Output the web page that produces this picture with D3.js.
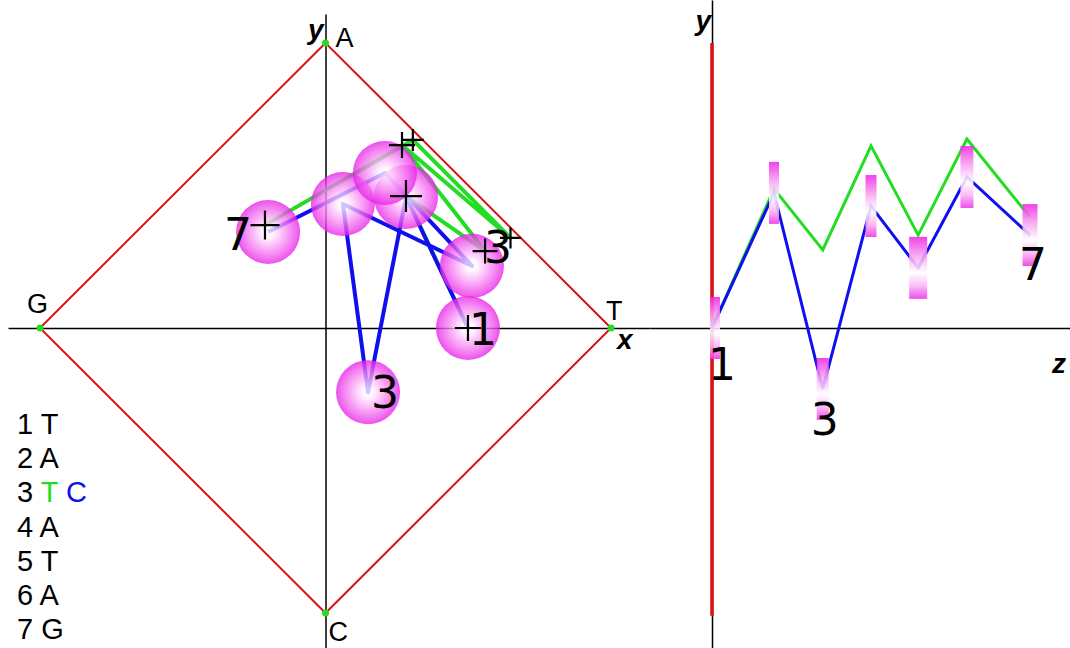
<!DOCTYPE html>
<html>
<head>
<meta charset="utf-8">
<script src="https://cdn.jsdelivr.net/npm/d3@7"></script>
<style>
  html, body { margin: 0; padding: 0; background: #fff; }
  svg { display: block; }
</style>
</head>
<body>
<svg id="chart" width="1070" height="648"></svg>
<script>
// ---- sequence: positions and the two variants (differ at position 3) ----
const positions = [1, 2, 3, 4, 5, 6, 7];
const seqGreen  = ["T", "A", "T", "A", "T", "A", "G"];
const seqBlue   = ["T", "A", "C", "A", "T", "A", "G"];

// ---- square of the four bases, in plane units ----
const vertexNames = ["A", "T", "C", "G"];
const vertexX = [0, 1, 0, -1];
const vertexY = [1, 0, -1, 0];

// ---- front view (x, y) of each walk ----
const greenFaceX = [0.499, 0.282, 0.559, 0.268, 0.648, 0.306, -0.212];
const greenFaceY = [0.000, 0.463, 0.270, 0.642, 0.316, 0.660, 0.361];
const blueFaceX  = [0.499, 0.282, 0.149, 0.061, 0.513, 0.208, -0.201];
const blueFaceY  = [0.000, 0.460, -0.225, 0.435, 0.218, 0.544, 0.337];

// ---- side view (z, y) of each walk ----
const sideZ      = [0, 1.17, 2.09, 3.00, 3.89, 4.81, 6.00];
const greenSideY = [0, 0.488, 0.274, 0.639, 0.326, 0.663, 0.389];
const blueSideY  = [0, 0.474, -0.214, 0.428, 0.211, 0.530, 0.326];

// ---- styling ----
const GREEN = "#22dd22", BLUE = "#1010ee", RED = "#dd1111";
const sphereR = 32;
const crossSize = [26, 32, 25, 26, 21, 22, 29];
const barWidth = [10, 10, 12, 11, 18, 13, 15];
const barHalf = 31;

const svg = d3.select("#chart");
const defs = svg.append("defs");

const rg = defs.append("radialGradient").attr("id", "ball")
  .attr("cx", "50%").attr("cy", "50%").attr("r", "50%");
[[0, "#ffffff"], [0.18, "#fff0ff"], [0.55, "#f894f4"], [0.85, "#ee48ec"], [1, "#e620e6"]]
  .forEach(([o, c]) => rg.append("stop").attr("offset", o).attr("stop-color", c));

const lg = defs.append("linearGradient").attr("id", "bar")
  .attr("x1", 0).attr("y1", 0).attr("x2", 0).attr("y2", 1);
[[0, "#ee28e6"], [0.3, "#f8a0f2"], [0.58, "#ffffff"], [0.8, "#fab0f4"], [1, "#ee34e8"]]
  .forEach(([o, c]) => lg.append("stop").attr("offset", o).attr("stop-color", c));

// ---- scales ----
const x = d3.scaleLinear().domain([-1, 1]).range([40, 611]);
const y = d3.scaleLinear().domain([-1, 1]).range([613, 43]);
const z = d3.scaleLinear().domain([0, 6]).range([712, 1030]);

const greenFace = positions.map((p, i) => ({ p, x: greenFaceX[i], y: greenFaceY[i] }));
const blueFace  = positions.map((p, i) => ({ p, x: blueFaceX[i],  y: blueFaceY[i] }));
const greenSide = positions.map((p, i) => ({ p, z: sideZ[i], y: greenSideY[i] }));
const blueSide  = positions.map((p, i) => ({ p, z: sideZ[i], y: blueSideY[i] }));

// ---- axes (plain domain lines) ----
function axisLine(g, axis, tx, ty) {
  g.attr("transform", `translate(${tx},${ty})`).call(axis);
  g.select(".domain").attr("stroke", "#000").attr("stroke-width", 1.5);
}
const xAxisScale = x.copy().domain([x.invert(8), x.invert(650)]).range([8, 650]);
axisLine(svg.append("g"), d3.axisBottom(xAxisScale).tickValues([]).tickSizeOuter(0), 0, y(0));
const yAxisScale = y.copy().domain([y.invert(648), y.invert(14)]).range([648, 14]);
axisLine(svg.append("g"), d3.axisLeft(yAxisScale).tickValues([]).tickSizeOuter(0), x(0), 0);

const zAxisScale = z.copy().domain([z.invert(650), z.invert(1070)]).range([650, 1070]);
axisLine(svg.append("g"), d3.axisBottom(zAxisScale).tickValues([]).tickSizeOuter(0), 0, y(0));
const ySideScale = y.copy().domain([y.invert(648), y.invert(0)]).range([648, 0]);
axisLine(svg.append("g"), d3.axisLeft(ySideScale).tickValues([]).tickSizeOuter(0), z(0), 0);

// ---- front view: base square ----
const square = vertexNames.map((n, i) => ({ n, x: vertexX[i], y: vertexY[i] }));
svg.append("path")
  .attr("d", d3.line().x(d => x(d.x)).y(d => y(d.y))(square) + "Z")
  .attr("fill", "none").attr("stroke", RED).attr("stroke-width", 2);
svg.selectAll("circle.vtx").data(square).join("circle").attr("class", "vtx")
  .attr("cx", d => x(d.x)).attr("cy", d => y(d.y)).attr("r", 3.5).attr("fill", GREEN);

const faceLine = d3.line().x(d => x(d.x)).y(d => y(d.y));
svg.append("path").attr("d", faceLine(greenFace)).attr("fill", "none")
  .attr("stroke", GREEN).attr("stroke-width", 4).attr("stroke-linejoin", "round");
svg.append("path").attr("d", faceLine(blueFace)).attr("fill", "none")
  .attr("stroke", BLUE).attr("stroke-width", 4).attr("stroke-linejoin", "round");

svg.selectAll("circle.ball").data(blueFace).join("circle").attr("class", "ball")
  .attr("cx", d => x(d.x)).attr("cy", d => y(d.y)).attr("r", sphereR)
  .attr("fill", "url(#ball)").attr("opacity", 0.78);

svg.selectAll("path.cross").data(greenFace).join("path").attr("class", "cross")
  .attr("d", (d, i) => {
    const cx = x(d.x), cy = y(d.y), h = crossSize[i] / 2;
    return `M${cx - h},${cy}H${cx + h}M${cx},${cy - h}V${cy + h}`;
  })
  .attr("stroke", "#000").attr("stroke-width", 2.2).attr("fill", "none");

// ---- side view ----
svg.append("line")
  .attr("x1", z(0)).attr("x2", z(0)).attr("y1", y(1)).attr("y2", y(-1.01))
  .attr("stroke", RED).attr("stroke-width", 3.5);

const sideLine = d3.line().x(d => z(d.z)).y(d => y(d.y));
svg.append("path").attr("d", sideLine(greenSide)).attr("fill", "none")
  .attr("stroke", GREEN).attr("stroke-width", 3).attr("stroke-linejoin", "miter");
svg.append("path").attr("d", sideLine(blueSide)).attr("fill", "none")
  .attr("stroke", BLUE).attr("stroke-width", 3).attr("stroke-linejoin", "miter");

svg.selectAll("rect.bar").data(blueSide).join("rect").attr("class", "bar")
  .attr("x", (d, i) => z(d.z) - barWidth[i] / 2 + (i === 0 ? 3 : 0))
  .attr("y", d => y(d.y) - barHalf)
  .attr("width", (d, i) => barWidth[i]).attr("height", barHalf * 2)
  .attr("fill", "url(#bar)").attr("opacity", 0.88);

// ---- point labels ----
const numFont = "DejaVu Sans, sans-serif";
const faceLabels = [
  { d: blueFace[6], t: "7", dx: -16, dy: 18, anchor: "end" },
  { d: blueFace[2], t: "3", dx: 3, dy: 16, anchor: "start" },
  { d: blueFace[0], t: "1", dx: 1, dy: 17, anchor: "start" },
  { d: greenFace[2], t: "3", dx: -1, dy: 12, anchor: "start" }
];
svg.selectAll("text.flab").data(faceLabels).join("text").attr("class", "flab")
  .attr("x", l => x(l.d.x) + l.dx).attr("y", l => y(l.d.y) + l.dy)
  .attr("text-anchor", l => l.anchor)
  .attr("font-family", numFont).attr("font-size", 44).attr("fill", "#000").text(l => l.t);

const sideLabels = [
  { d: blueSide[0], t: "1", dx: -4, dy: 52 },
  { d: blueSide[2], t: "3", dx: -12, dy: 46 },
  { d: blueSide[6], t: "7", dx: -11, dy: 45 }
];
svg.selectAll("text.slab").data(sideLabels).join("text").attr("class", "slab")
  .attr("x", l => z(l.d.z) + l.dx).attr("y", l => y(l.d.y) + l.dy)
  .attr("font-family", numFont).attr("font-size", 44).attr("fill", "#000").text(l => l.t);

// ---- vertex names and axis titles ----
const txtFont = "Liberation Sans, Arial, sans-serif";
const vertexLabelPos = { A: [10, 4], T: [-5, -8], C: [3, 28], G: [-13, -15] };
svg.selectAll("text.vname").data(square).join("text").attr("class", "vname")
  .attr("x", d => x(d.x) + vertexLabelPos[d.n][0])
  .attr("y", d => y(d.y) + vertexLabelPos[d.n][1])
  .attr("font-family", txtFont).attr("font-size", 27).text(d => d.n);

const titles = [
  { t: "y", px: x(0) - 2, py: 39, anchor: "end" },
  { t: "x", px: x(1) + 6, py: y(0) + 21, anchor: "start" },
  { t: "y", px: z(0) - 1, py: 30, anchor: "end" },
  { t: "z", px: 1052, py: y(0) + 45, anchor: "start" }
];
svg.selectAll("text.ttl").data(titles).join("text").attr("class", "ttl")
  .attr("x", d => d.px).attr("y", d => d.py).attr("text-anchor", d => d.anchor)
  .attr("font-family", txtFont).attr("font-size", 28)
  .attr("font-weight", "bold").attr("font-style", "italic").text(d => d.t);

// ---- sequence legend ----
const legend = svg.append("g").attr("font-family", txtFont).attr("font-size", 29);
positions.forEach((p, i) => {
  const t = legend.append("text").attr("x", 17).attr("y", 434 + i * 34.2);
  t.append("tspan").text(p + " ");
  if (seqGreen[i] === seqBlue[i]) {
    t.append("tspan").attr("fill", "#000").text(seqGreen[i]);
  } else {
    t.append("tspan").attr("fill", GREEN).text(seqGreen[i]);
    t.append("tspan").attr("fill", BLUE).text(" " + seqBlue[i]);
  }
});
</script>
</body>
</html>
